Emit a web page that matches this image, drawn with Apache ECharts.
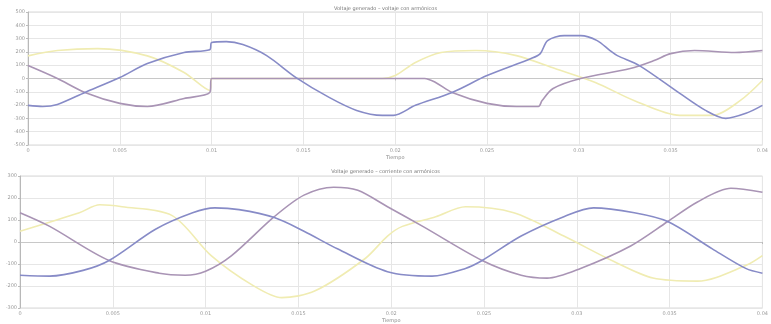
<!DOCTYPE html>
<html><head><meta charset="utf-8">
<script src="https://cdn.jsdelivr.net/npm/echarts@6/dist/echarts.min.js"></script>
<style>html,body{margin:0;padding:0;background:#fff}#c{width:771px;height:324px}</style>
</head><body><div id="c"></div>
<script>
// Titles / axis labels
const titleTop = 'Voltaje generado – voltaje con armónicos';
const titleBottom = 'Voltaje generado – corriente con armónicos';
const xName = 'Tiempo';
const xTicks = [0, 0.005, 0.01, 0.015, 0.02, 0.025, 0.03, 0.035, 0.04];

// Top plot, series A (blue)
const tA = [0,0.0008,0.0016,0.0031,0.005,0.0065,0.0085,0.0099,0.0100,0.0108,0.0117,0.013,0.0146,0.0164,0.0179,0.0193,0.0199,0.0211,0.0231,0.025,0.0274,0.0279,0.0283,0.0292,0.0301,0.031,0.0317,0.0321,0.0333,0.0355,0.0369,0.038,0.0391,0.04];
const vA = [-202,-210,-195,-105,7,112,195,217,270,277,255,172,7,-142,-240,-277,-277,-202,-105,22,150,187,285,322,322,285,210,172,97,-112,-240,-300,-262,-202];
// Top plot, series B (purple)
const tB = [0,0.0016,0.0031,0.005,0.0065,0.0085,0.0099,0.0100,0.0216,0.0222,0.0231,0.025,0.0266,0.0278,0.028,0.0286,0.0301,0.0328,0.0341,0.035,0.0363,0.0385,0.04];
const vB = [97,0,-105,-187,-210,-150,-105,0,0,-30,-105,-187,-210,-210,-165,-75,0,75,135,187,210,195,210];
// Top plot, series C (yellow)
const tC = [0,0.0016,0.0038,0.0065,0.0085,0.0099,0.0100,0.0193,0.0200,0.0211,0.0225,0.0244,0.0266,0.0287,0.0309,0.0330,0.0355,0.0373,0.0388,0.04];
const vC = [170,210,225,170,45,-90,0,0,22,120,195,210,172,75,-30,-165,-277,-277,-165,-15];

// Bottom plot, series D (purple)
const tD = [0,0.0016,0.0048,0.0075,0.0089,0.0100,0.0114,0.0137,0.0153,0.0169,0.0182,0.0198,0.0217,0.0249,0.0270,0.0284,0.0302,0.0329,0.0349,0.0365,0.0383,0.04];
const vD = [133,71,-84,-142,-151,-133,-62,115,213,249,235,160,71,-84,-151,-164,-120,-18,93,182,244,226];
// Bottom plot, series E (blue)
const tE = [0,0.0016,0.0034,0.0048,0.0073,0.0093,0.0105,0.0118,0.0137,0.0153,0.0171,0.0198,0.0222,0.0240,0.0249,0.0270,0.0293,0.0309,0.0331,0.0349,0.0373,0.0391,0.04];
const vE = [-151,-155,-129,-84,58,133,155,147,111,49,-31,-135,-155,-120,-84,27,115,155,133,93,-31,-120,-142];
// Bottom plot, series F (yellow)
const tF = [0,0.0032,0.0043,0.0055,0.0082,0.0103,0.0125,0.0141,0.0159,0.0186,0.0198,0.0206,0.0224,0.0240,0.0266,0.0293,0.0320,0.0341,0.0365,0.0391,0.04];
const vF = [49,133,169,160,120,-62,-195,-253,-222,-75,27,71,115,160,133,27,-89,-164,-178,-107,-62];

const pairs = (t, v) => t.map((x, i) => [x, v[i]]);

const cBlue = '#878bc7', cPurple = '#a994b5', cYellow = '#f0ecb2';
const axisLbl = {fontSize: 5, color: '#9a9a9a', fontFamily: 'DejaVu Sans'};
const gridLine = {show: true, lineStyle: {color: '#e6e6e6', width: 1}};

function xAxis(gi) {
  return {type: 'value', gridIndex: gi, min: xTicks[0], max: xTicks[xTicks.length - 1], interval: 0.005,
    name: xName, nameLocation: 'middle', nameGap: 10,
    nameTextStyle: {fontSize: 5, color: '#888', fontFamily: 'DejaVu Sans'},
    axisLine: {show: true, lineStyle: {color: '#c8c8c8'}},
    axisTick: {show: true, length: 2, lineStyle: {color: '#bbb'}},
    axisLabel: Object.assign({margin: 3, formatter: v => String(+v.toFixed(3))}, axisLbl),
    splitLine: gridLine};
}
function yAxis(gi, lim) {
  return {type: 'value', gridIndex: gi, min: -lim, max: lim, interval: 100,
    axisLine: {show: true, lineStyle: {color: '#b8b8b8'}},
    axisTick: {show: true, length: 2, lineStyle: {color: '#bbb'}},
    axisLabel: Object.assign({margin: 3}, axisLbl),
    splitLine: gridLine};
}
function line(name, data, color, gi) {
  return {name, type: 'line', xAxisIndex: gi, yAxisIndex: gi, data, color,
    showSymbol: false, smooth: 0.3, lineStyle: {color, width: 1.6}, animation: false};
}

const chart = echarts.init(document.getElementById('c'), null, {renderer: 'canvas'});
chart.setOption({
  backgroundColor: '#ffffff',
  animation: false,
  title: [
    {text: titleTop, left: 'center', top: 1, textStyle: {fontSize: 5, fontWeight: 'normal', color: '#777', fontFamily: 'DejaVu Sans'}},
    {text: titleBottom, left: 'center', top: 164, textStyle: {fontSize: 5, fontWeight: 'normal', color: '#777', fontFamily: 'DejaVu Sans'}}
  ],
  grid: [
    {left: 28, right: 3, top: 12, height: 133, show: true, borderColor: '#d8d8d8', borderWidth: 1},
    {left: 20, right: 3, top: 176, height: 134, show: true, borderColor: '#d8d8d8', borderWidth: 1}
  ],
  xAxis: [xAxis(0), xAxis(1)],
  yAxis: [yAxis(0, 500), yAxis(1, 300)],
  series: [
    line('C', pairs(tC, vC), cYellow, 0),
    line('B', pairs(tB, vB), cPurple, 0),
    line('A', pairs(tA, vA), cBlue, 0),
    line('F', pairs(tF, vF), cYellow, 1),
    line('D', pairs(tD, vD), cPurple, 1),
    line('E', pairs(tE, vE), cBlue, 1)
  ]
});
</script></body></html>
